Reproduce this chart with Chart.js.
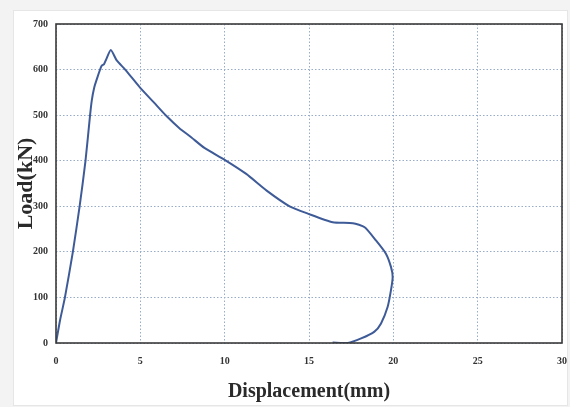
<!DOCTYPE html>
<html>
<head>
<meta charset="utf-8">
<script src="https://cdn.jsdelivr.net/npm/chart.js@4"></script>
<style>
  html, body { margin: 0; padding: 0; background: #f3f3f3; }
  #wrap { width: 570px; height: 407px; }
</style>
</head>
<body>
<div id="wrap"><canvas id="loadChart" width="570" height="407"></canvas></div>
<script>
/* load–displacement curve */

const displacement = [0, 0.24, 0.53, 1.0, 1.4, 1.75, 2.02, 2.12, 2.27, 2.41, 2.7, 2.85, 2.96, 3.25,
  3.6, 4.1, 4.97, 5.8, 6.55, 7.3, 8.03, 8.8, 10.0, 11.28, 12.47, 13.85, 14.93, 16.41, 17.6, 18.3,
  18.97, 19.56, 19.86, 19.96, 19.86, 19.66, 19.27, 18.88, 18.09, 17.3, 16.4];
const load = [0, 50, 100, 200, 300, 400, 500, 532, 561, 578, 608, 612, 621, 643,
  620, 600, 561, 528, 498, 472, 451, 428, 402, 371, 335, 300, 284, 265, 263, 254,
  225, 196, 167, 145, 116, 79, 43, 25, 10, 0, 1];

const xTicks = [0, 5, 10, 15, 20, 25, 30];
const yTicks = [0, 100, 200, 300, 400, 500, 600, 700];

const AREA = { left: 56, right: 562, top: 24, bottom: 343 };
const W = 570, H = 407;

const gridColor = '#98acca';
const tickFont  = { family: 'Liberation Serif', size: 10, weight: 'bold' };
const titleFont = { family: 'Liberation Serif', size: 20, weight: 'bold' };

// paper panel + plot frame
const framePlugin = {
  id: 'frame',
  beforeDraw(chart) {
    const c = chart.ctx;
    c.save();
    c.fillStyle = '#f3f3f3';
    c.fillRect(0, 0, W, H);
    c.fillStyle = '#ffffff';
    c.fillRect(13, 10, 554, 395);
    c.strokeStyle = '#e6e6e6';
    c.lineWidth = 1;
    c.strokeRect(13.5, 10.5, 554, 395);
    c.restore();
  },
  afterDatasetsDraw(chart) {
    const a = chart.chartArea, c = chart.ctx;
    c.save();
    c.strokeStyle = '#3a3a3a';
    c.lineWidth = 1.6;
    c.strokeRect(a.left, a.top, a.right - a.left, a.bottom - a.top);
    c.restore();
  },
};

new Chart(document.getElementById('loadChart'), {
  type: 'scatter',
  data: {
    datasets: [{
      data: displacement.map((x, i) => ({ x, y: load[i] })),
      showLine: true,
      borderColor: '#3e5b98',
      borderWidth: 2,
      pointRadius: 0,
      tension: 0.2,
      fill: false,
    }],
  },
  options: {
    responsive: false,
    animation: false,
    layout: { padding: { left: 0, right: W - AREA.right, top: AREA.top, bottom: 0 } },
    plugins: { legend: { display: false }, tooltip: { enabled: false } },
    scales: {
      x: {
        type: 'linear', min: 0, max: 30,
        afterBuildTicks: s => { s.ticks = xTicks.map(v => ({ value: v })); },
        afterFit: s => { s.height = H - AREA.bottom; s.paddingLeft = 0; s.paddingRight = 0; },
        grid: { color: gridColor, lineWidth: 1, drawTicks: false },
        border: { display: false, dash: [1.5, 2] },
        ticks: { color: '#333', font: tickFont, padding: 12, maxRotation: 0 },
        title: { display: true, text: 'Displacement(mm)', color: '#2a2a2a', font: titleFont, padding: { bottom: 3, top: 0 } },
      },
      y: {
        type: 'linear', min: 0, max: 700,
        afterBuildTicks: s => { s.ticks = yTicks.map(v => ({ value: v })); },
        afterFit: s => { s.width = AREA.left; s.paddingTop = 0; s.paddingBottom = 0; },
        grid: { color: gridColor, lineWidth: 1, drawTicks: false },
        border: { display: false, dash: [1.5, 2] },
        ticks: { color: '#333', font: tickFont, padding: 8 },
        title: { display: true, text: 'Load(kN)', color: '#2a2a2a', font: { ...titleFont, size: 22 }, padding: { top: 13, bottom: 0 } },
      },
    },
  },
  plugins: [framePlugin],
});
</script>
</body>
</html>
